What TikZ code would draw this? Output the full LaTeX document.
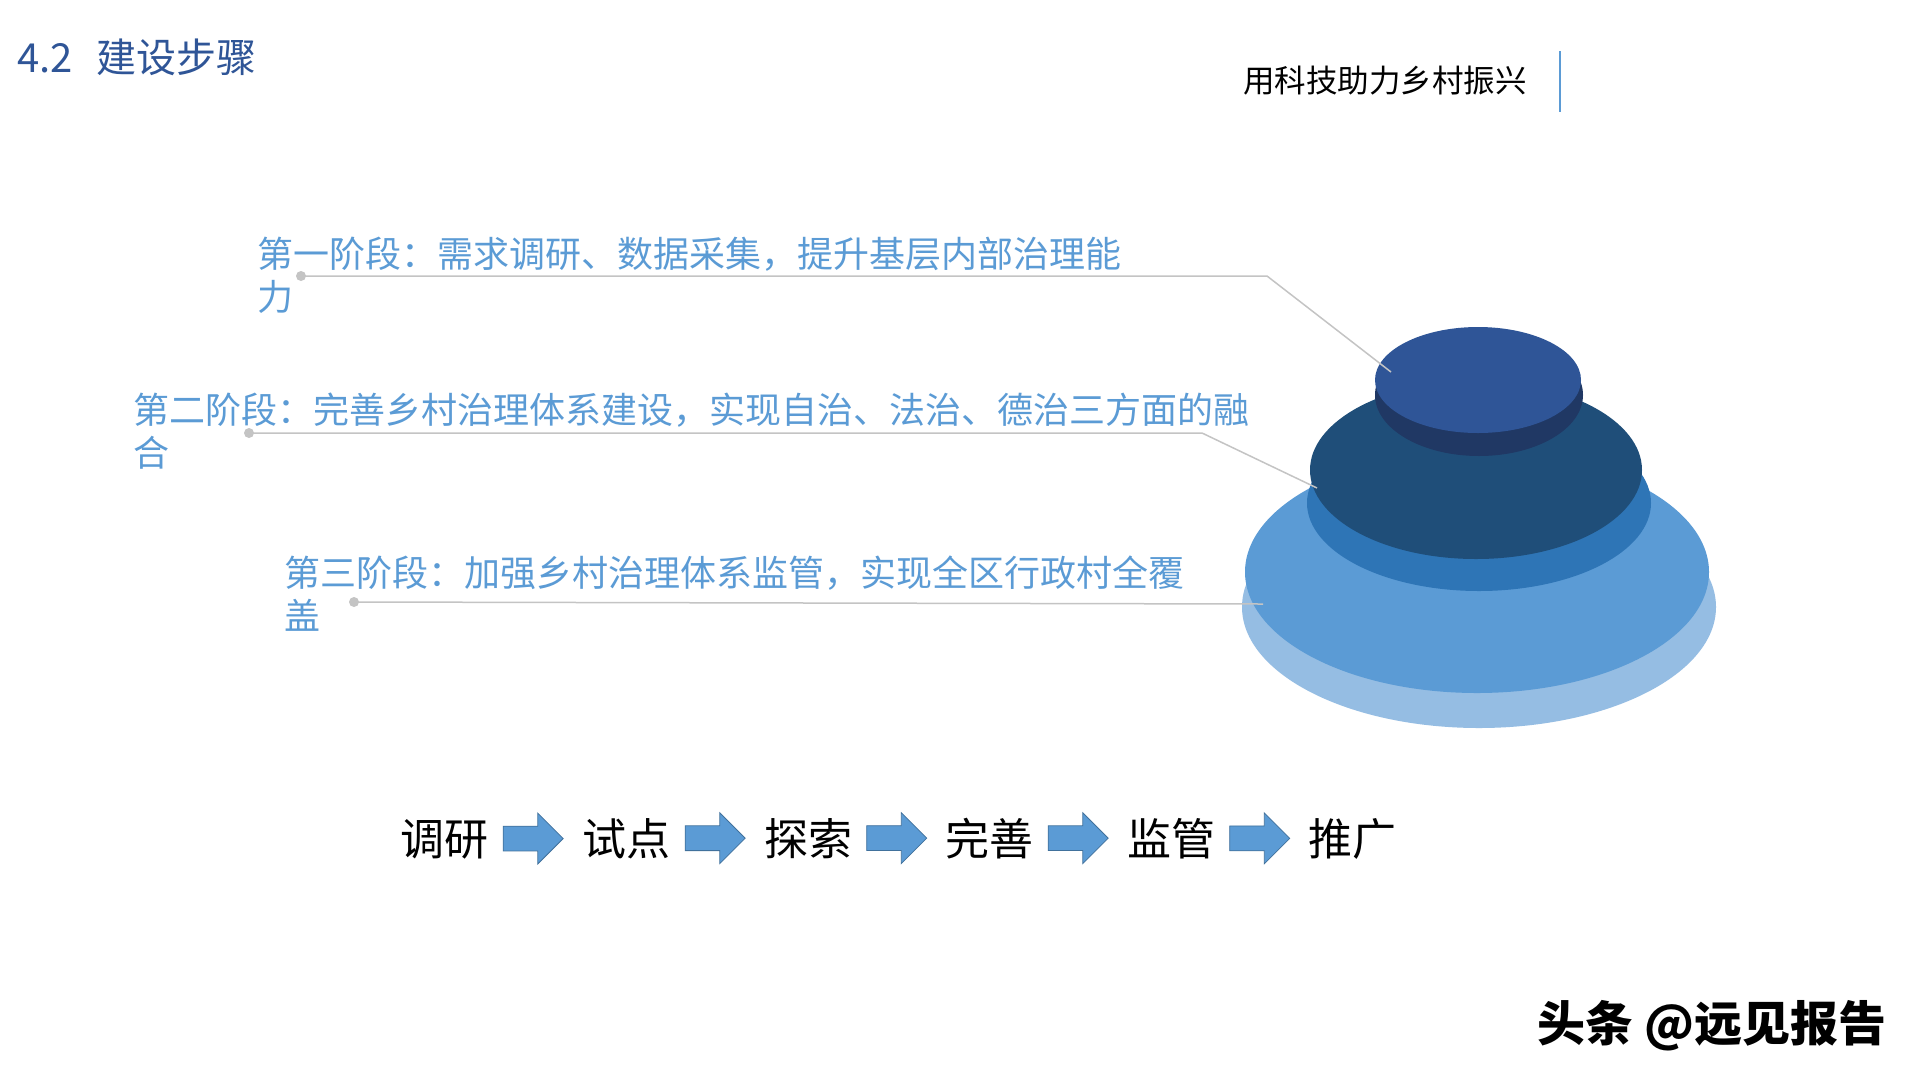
\documentclass[tikz,border=0pt]{standalone}
\usepackage{fontspec}
\newfontfamily\cjk{Noto Sans CJK SC}
\usetikzlibrary{shapes.arrows,calc}
\definecolor{titleblue}{HTML}{2F5597}
\definecolor{textblue}{HTML}{5B9BD5}
\definecolor{lvlA}{HTML}{95BDE3}
\definecolor{lvlB}{HTML}{5B9BD5}
\definecolor{lvlC}{HTML}{2E75B6}
\definecolor{lvlD}{HTML}{1F4E79}
\definecolor{lvlE}{HTML}{203864}
\definecolor{lvlF}{HTML}{2F5597}
\definecolor{leadgray}{HTML}{C4C4C4}
\definecolor{arrowedge}{HTML}{41719C}
\begin{document}
\begin{tikzpicture}[x=1pt,y=-1pt,
  stagetext/.style={font=\cjk\fontsize{36}{43}\selectfont, text=textblue, align=left, inner sep=0pt, anchor=base west},
  flowtext/.style={font=\cjk\fontsize{44}{50}\selectfont, text=black, inner sep=0pt, anchor=base},
  flowarrow/.style={single arrow, fill=lvlB, draw=arrowedge, line width=0.8pt, inner xsep=0pt, inner ysep=12pt,
     minimum height=60pt, single arrow head extend=13pt},
  leaddot/.style={circle, fill=leadgray, inner sep=0pt, minimum size=10pt},
  leader/.style={draw=leadgray, line width=1.5pt}]
\useasboundingbox (0,0) rectangle (1920,1080);
\fill[white] (0,0) rectangle (1920,1080);

% title and header
\node[font=\cjk\fontsize{40}{46}\selectfont, text=titleblue, inner sep=0pt, anchor=base west] (title) at (17,72) {4.2\hspace{24pt}建设步骤};
\node[font=\cjk\fontsize{31.5}{36}\selectfont, text=black, inner sep=0pt, anchor=base west] (header) at (1243,92) {用科技助力乡村振兴};
\draw[textblue, line width=2.5pt] (1560,51) -- (1560,112);

% stacked ellipses
\fill[lvlA] (1479,607) ellipse [x radius=237, y radius=121];
\fill[lvlB] (1477,572) ellipse [x radius=232, y radius=121];
\fill[lvlC] (1479,503) ellipse [x radius=172, y radius=88];
\fill[lvlD] (1476,470) ellipse [x radius=166, y radius=89];
\fill[lvlE] (1479,395) ellipse [x radius=104, y radius=61];
\fill[lvlF] (1478,380) ellipse [x radius=103, y radius=53];

% stage texts (anchor at baseline of last line)
\node[stagetext] (s1) at (257,310) {第一阶段：需求调研、数据采集，提升基层内部治理能\\力};
\node[stagetext] (s2) at (133,466) {第二阶段：完善乡村治理体系建设，实现自治、法治、德治三方面的融\\合};
\node[stagetext] (s3) at (284,629) {第三阶段：加强乡村治理体系监管，实现全区行政村全覆\\盖};

% leaders
\node[leaddot] (d1) at (301,276) {};
\node[leaddot] (d2) at (249,433) {};
\node[leaddot] (d3) at (354,602) {};
\coordinate (k1) at (1267,276);
\coordinate (e1) at (1391,372);
\coordinate (k2) at (1202,433);
\coordinate (e2) at (1317,488);
\coordinate (e3) at (1263,604);
\draw[leader] (d1.center) -- (k1) -- (e1);
\draw[leader] (d2.center) -- (k2) -- (e2);
\draw[leader] (d3.center) -- (e3);

% flow
\node[flowtext] (f1) at (444,855) {调研};
\node[flowtext] (f2) at (626,855) {试点};
\node[flowtext] (f3) at (808,855) {探索};
\node[flowtext] (f4) at (989,855) {完善};
\node[flowtext] (f5) at (1171,855) {监管};
\node[flowtext] (f6) at (1352,855) {推广};
\foreach \a/\b in {1/2,2/3,3/4,4/5,5/6}
  \node[flowarrow, xshift=-8pt] (a\a) at ($(f\a.center)!0.5!(f\b.center)$) {};

% watermark
\node[font=\cjk\bfseries\fontsize{48}{54}\selectfont, text=black, inner sep=0pt, anchor=base west] (wm) at (1537,1041) {头条 @远见报告};
\end{tikzpicture}
\end{document}
